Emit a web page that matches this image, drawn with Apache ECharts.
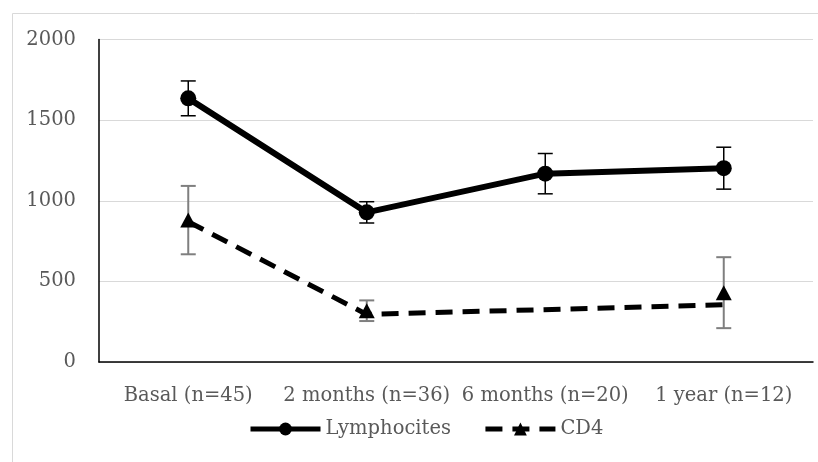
<!DOCTYPE html>
<html>
<head>
<meta charset="utf-8">
<script src="https://cdn.jsdelivr.net/npm/echarts@6/dist/echarts.min.js"></script>
<style>
  html, body { margin: 0; padding: 0; background: #ffffff; }
  #chart { width: 818px; height: 462px; }
</style>
</head>
<body>
<div id="chart"></div>
<script>
// Follow-up time points
const categories = ['Basal (n=45)', '2 months (n=36)', '6 months (n=20)', '1 year (n=12)'];

// Lymphocyte counts (mean) and their error bars
const lymphocites = [1635, 928, 1168, 1202];
const lymphocitesErr = [108, 66, 125, 130];

// CD4 counts: dashed connecting line, measured points and error bars
const cd4Line = [870, 295, null, 355];
const cd4Points = [880, 318, null, 430];
const cd4Err = [212, 64, null, 220];

// Value axis ticks
const yMin = 0;
const yMax = 2000;
const yInterval = 500;

const FONT = 'DejaVu Serif';
const TEXT = '#595959';
const FONT_SIZE = 19.5;

function errorData(values, errs) {
  const out = [];
  values.forEach(function (v, i) {
    if (v != null && errs[i] != null) out.push([i, v, errs[i]]);
  });
  return out;
}

function errorBarRenderer(color, width, capHalf) {
  return function (params, api) {
    const x = api.value(0);
    const v = api.value(1);
    const e = api.value(2);
    const top = api.coord([x, v + e]);
    const bot = api.coord([x, v - e]);
    const style = { stroke: color, lineWidth: width, fill: null };
    return {
      type: 'group',
      children: [
        { type: 'line', shape: { x1: top[0], y1: top[1], x2: bot[0], y2: bot[1] }, style: style },
        { type: 'line', shape: { x1: top[0] - capHalf, y1: top[1], x2: top[0] + capHalf, y2: top[1] }, style: style },
        { type: 'line', shape: { x1: bot[0] - capHalf, y1: bot[1], x2: bot[0] + capHalf, y2: bot[1] }, style: style }
      ]
    };
  };
}

const chart = echarts.init(document.getElementById('chart'), null, { renderer: 'canvas' });

chart.setOption({
  backgroundColor: '#ffffff',
  animation: false,
  textStyle: { fontFamily: FONT },
  graphic: [{
    type: 'rect',
    left: 10,
    top: 11,
    silent: true,
    z: -10,
    shape: { width: 900, height: 600 },
    style: { fill: null, stroke: '#d9d9d9', lineWidth: 1 }
  }],
  grid: { left: 99, right: 5, top: 39.5, bottom: 100, containLabel: false },
  legend: {
    data: ['Lymphocites', 'CD4'],
    left: 243,
    top: 414,
    itemWidth: 70,
    itemHeight: 16,
    itemGap: 32,
    lineStyle: { width: 5 },
    textStyle: { fontFamily: FONT, fontSize: FONT_SIZE, color: TEXT }
  },
  xAxis: {
    type: 'category',
    data: categories,
    boundaryGap: true,
    axisLine: { lineStyle: { color: '#000000', width: 1.5 } },
    axisTick: { show: false },
    axisLabel: { interval: 0, margin: 24, fontFamily: FONT, fontSize: FONT_SIZE, color: TEXT }
  },
  yAxis: {
    type: 'value',
    min: yMin,
    max: yMax,
    interval: yInterval,
    axisLine: { show: true, lineStyle: { color: '#000000', width: 1.5 } },
    axisTick: { show: false },
    splitLine: { lineStyle: { color: '#d9d9d9', width: 1 } },
    axisLabel: {
      margin: 23,
      fontFamily: FONT,
      fontSize: FONT_SIZE,
      color: TEXT,
      formatter: function (v) { return String(v); }
    }
  },
  series: [
    {
      name: 'Lymphocites SD',
      type: 'custom',
      renderItem: errorBarRenderer('#000000', 1.5, 7.5),
      data: errorData(lymphocites, lymphocitesErr),
      encode: { x: 0, y: 1 },
      z: 1
    },
    {
      name: 'CD4 SD',
      type: 'custom',
      renderItem: errorBarRenderer('#7f7f7f', 2, 7.5),
      data: errorData(cd4Points, cd4Err),
      encode: { x: 0, y: 1 },
      z: 1
    },
    {
      name: 'CD4',
      type: 'line',
      data: cd4Line,
      connectNulls: true,
      showSymbol: false,
      symbol: 'triangle',
      symbolSize: 16,
      itemStyle: { color: '#000000' },
      lineStyle: { color: '#000000', width: 5, type: [17, 10] },
      z: 2
    },
    {
      name: 'CD4',
      type: 'scatter',
      data: cd4Points,
      symbol: 'triangle',
      symbolSize: [16, 15],
      itemStyle: { color: '#000000', opacity: 1 },
      z: 4
    },
    {
      name: 'Lymphocites',
      type: 'line',
      data: lymphocites,
      symbol: 'circle',
      symbolSize: 16,
      showSymbol: true,
      itemStyle: { color: '#000000' },
      lineStyle: { color: '#000000', width: 6 },
      z: 3
    }
  ]
});
</script>
</body>
</html>
